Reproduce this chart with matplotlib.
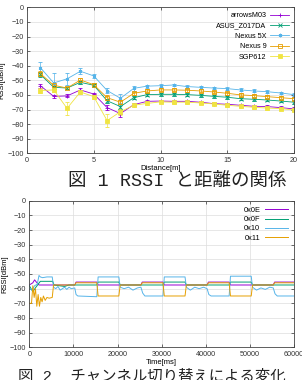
import numpy as np
import matplotlib
matplotlib.use('Agg')
import matplotlib.pyplot as plt
from matplotlib.lines import Line2D

plt.rcParams['font.family'] = ['Liberation Sans', 'DejaVu Sans']

# --- Bild 1: RSSI vs Distanz ---
distance = list(range(1, 21))
dev_names = ['arrowsM03', 'ASUS_Z017DA', 'Nexus 5X', 'Nexus 9', 'SGP612']
rssi_arrows = [-53.7, -61.0, -60.7, -56.6, -59.4, -68.7, -72.8, -66.7, -64.4, -64.2,
               -64.4, -64.4, -65.0, -66.0, -66.4, -67.1, -67.8, -68.0, -68.7, -69.6]
rssi_asus = [-46.0, -54.8, -55.3, -51.4, -53.4, -64.0, -68.0, -61.9, -59.8, -59.6,
             -59.6, -59.8, -60.3, -61.0, -61.6, -62.6, -63.0, -63.5, -64.2, -65.0]
rssi_n5x = [-41.3, -51.8, -49.0, -43.8, -47.0, -57.0, -62.3, -55.5, -54.0, -53.7,
            -53.2, -54.3, -54.8, -55.3, -55.7, -56.6, -57.3, -57.8, -58.7, -59.8]
rssi_n9 = [-45.4, -53.4, -55.3, -49.8, -53.0, -61.9, -65.0, -58.9, -57.3, -56.6,
           -56.6, -56.8, -57.3, -58.0, -58.9, -60.0, -60.5, -61.2, -61.9, -62.6]
rssi_sgp = [-57.0, -56.6, -69.2, -58.0, -61.2, -77.6, -71.5, -67.1, -65.8, -64.8,
            -65.0, -65.0, -65.5, -66.2, -67.1, -67.8, -68.5, -69.0, -69.4, -70.3]
err_arrows = [1.5, 1, 1, 1.5, 1, 1.5, 2.5, 1, 1, 1, 1, 1, 1, 1, 1, 1, 1, 1, 1, 1]
err_asus = [1.5, 1, 1, 1, 1, 1.5, 1.5, 1, 1, 1, 1, 1, 1, 1, 1, 1, 1, 1, 1, 1]
err_n5x = [3.5, 6.5, 4, 2, 1.5, 1.5, 3, 1.5, 1, 1, 1, 1, 1, 1, 1, 1, 1, 1, 1, 1]
err_n9 = [1.5, 1, 1, 1.5, 1, 1.5, 1.5, 1, 1, 1, 1, 1, 1, 1, 1, 1, 1, 1, 1, 1]
err_sgp = [2, 1.5, 4.5, 1.5, 1.5, 4.5, 2, 1, 1, 1, 1, 1, 1, 1, 1, 1, 1, 1, 1, 1]

# --- Bild 2: Kanalwechsel ---
ch_names = ['0x0E', '0x0F', '0x10', '0x11']
t_0e = [0, 800, 1200, 1600, 2200, 10300, 10600, 15300, 15600, 25300, 25600, 30300, 30600,
        40300, 40600, 45300, 45600, 55300, 55600, 60000]
v_0e = [-57.5, -56, -54, -55.5, -57.5, -57.5, -55.5, -55.5, -57.5, -57.5, -55.5, -55.5, -57.5,
        -57.5, -55.5, -55.5, -57.5, -57.5, -55.5, -55.5]
t_0f = [0, 800, 1500, 2500, 5300, 5600, 8000, 9000, 15300, 15600, 20300, 20600, 30300, 30600,
        35300, 35600, 45300, 45600, 50300, 50600, 60000]
v_0f = [-58, -62, -59, -55, -55, -57.5, -58.5, -57.5, -57.5, -55.5, -55.5, -57.5, -57.5, -55.5,
        -55.5, -57.5, -57.5, -55.5, -55.5, -57.5, -57.5]
t_10 = [0, 600, 1200, 1800, 2200, 2500, 3000, 4000, 5200, 5500, 6000, 6500, 7000, 8000, 8500,
        9000, 9500, 10300, 10600, 11000, 15300, 15600, 16000, 20300, 20600, 21500, 22500, 23500,
        24500, 25300, 25700, 26200, 30300, 30600, 31000, 35300, 35600, 36500, 37500, 38500, 39500,
        40300, 40700, 41200, 45300, 45600, 46000, 50300, 50600, 51500, 52500, 53500, 54500, 55300,
        55700, 56200, 60000]
v_10 = [-60, -61, -58, -57, -51, -52, -52.5, -52, -52, -59, -60, -58.5, -61, -59, -60.5,
        -59, -60, -59.5, -64, -65, -65.5, -52, -52, -52, -59, -60, -59, -61,
        -59.5, -59, -63, -65, -65, -52, -52, -52, -59, -61, -59, -60, -59,
        -60, -64, -65, -65, -51.5, -51.5, -51.5, -59, -61, -59.5, -60.5, -59, -59.5,
        -63.5, -65, -65]
t_11 = [0, 500, 800, 1100, 1400, 1700, 2000, 2300, 2600, 2900, 3200, 3600, 4000, 4500, 5200,
        5500, 10300, 10600, 15300, 15600, 20300, 20600, 25300, 25600, 30300, 30600, 35300, 35600,
        40300, 40600, 45300, 45600, 50300, 50600, 55300, 55600, 60000]
v_11 = [-70, -70, -58, -66, -60, -72, -64, -72, -66, -69, -65, -68, -66, -66.5, -66,
        -57.5, -57.5, -56, -56, -65, -65, -57.5, -57.5, -56, -56, -65, -65, -57.5,
        -57.5, -56, -56, -65, -65, -57.5, -57.5, -56, -56]

colors = ['#9400d3', '#009e73', '#56b4e9', '#e69f00', '#f0e442']
markers = ['+', 'x', (6, 2, 0), 's', 's']
fills = ['full', 'full', 'full', 'none', 'full']

W, H = 302, 380
fig = plt.figure(figsize=(W / 100, H / 100), dpi=100)


def style_axes(ax):
    for s in ax.spines.values():
        s.set_color('#444444')
        s.set_linewidth(0.6)
    ax.tick_params(direction='in', length=2.5, width=0.5, labelsize=5.2,
                   top=True, right=True, pad=2.5, colors='#333333')
    ax.grid(True, color='#dddddd', linewidth=0.5)
    ax.set_axisbelow(True)


# Bild 1
ax1 = fig.add_axes([27 / W, 1 - 153.3 / H, (294 - 27) / W, 146 / H])
series = [rssi_arrows, rssi_asus, rssi_n5x, rssi_n9, rssi_sgp]
errs = [err_arrows, err_asus, err_n5x, err_n9, err_sgp]
handles = []
for name, y, e, c, m, f in zip(dev_names, series, errs, colors, markers, fills):
    ax1.errorbar(distance, y, yerr=e, color=c, lw=0.6, elinewidth=0.5, capsize=1.2,
                 capthick=0.5, marker=m, markersize=2.5, markeredgewidth=0.6, fillstyle=f)
    handles.append(Line2D([], [], color=c, lw=0.6, marker=m, markersize=2.5,
                          markeredgewidth=0.6, fillstyle=f))
ax1.set_xlim(0, 20)
ax1.set_ylim(-100, 0)
ax1.set_xticks([0, 5, 10, 15, 20])
ax1.set_yticks(range(-100, 1, 10))
style_axes(ax1)
ax1.set_xlabel('Distance[m]', fontsize=5.5, labelpad=1)
ax1.set_ylabel('RSSI[dBm]', fontsize=5.5, labelpad=1)
ax1.legend(handles, dev_names, loc='upper right', fontsize=5.2, frameon=False,
           markerfirst=False, handlelength=2.6, handletextpad=0.5,
           labelspacing=0.45, borderaxespad=0.3, numpoints=1)

# Bild 2
ax2 = fig.add_axes([29.3 / W, 1 - 347.3 / H, (294 - 29.3) / W, 146.6 / H])
times = [t_0e, t_0f, t_10, t_11]
vals = [v_0e, v_0f, v_10, v_11]
for name, t, v, c in zip(ch_names, times, vals, colors):
    ax2.plot(t, v, color=c, lw=0.7, label=name)
ax2.set_xlim(0, 60000)
ax2.set_ylim(-100, 0)
ax2.set_xticks(range(0, 60001, 10000))
ax2.set_yticks(range(-100, 1, 10))
style_axes(ax2)
ax2.set_xlabel('Time[ms]', fontsize=5.5, labelpad=1)
ax2.set_ylabel('RSSI[dBm]', fontsize=5.5, labelpad=1)
ax2.legend(loc='upper right', fontsize=5.3, frameon=False, markerfirst=False,
           handlelength=3.2, handletextpad=0.6, labelspacing=0.3, borderaxespad=0.4)

# Beschriftungen
cap_fonts = ['Liberation Mono', 'Noto Sans CJK JP', 'DejaVu Sans']
fig.text(68 / W, 1 - 181.5 / H, '図 1 RSSI と距離の関係', family=cap_fonts, fontsize=13.3,
         ha='left', va='center', color='#222222')
fig.text(18 / W, 1 - 376 / H, '図 2  チャンネル切り替えによる変化', family=cap_fonts,
         fontsize=11.1, ha='left', va='center', color='#222222')

fig.savefig('out.png', dpi=100)
